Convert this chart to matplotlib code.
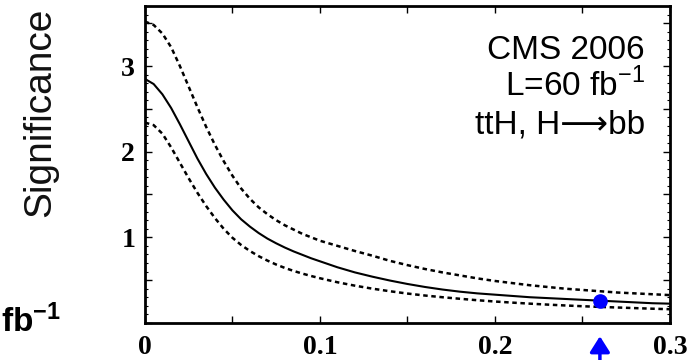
import matplotlib
matplotlib.use("Agg")
import matplotlib.pyplot as plt
from matplotlib.ticker import MultipleLocator, FuncFormatter

plt.rcParams['mathtext.fontset'] = 'custom'
plt.rcParams['mathtext.rm'] = 'Liberation Sans'
plt.rcParams['mathtext.bf'] = 'Liberation Sans:bold'

# significance vs. x, central curve with upper/lower bands
x = [0.0, 0.005, 0.01, 0.015, 0.02, 0.025, 0.03, 0.035, 0.04, 0.045, 0.05,
     0.055, 0.06, 0.065, 0.07, 0.075, 0.08, 0.085, 0.09, 0.095, 0.10,
     0.11, 0.12, 0.13, 0.14, 0.15, 0.16, 0.17, 0.18, 0.19, 0.20,
     0.21, 0.22, 0.23, 0.24, 0.25, 0.26, 0.27, 0.28, 0.29, 0.30]
sig_central = [2.85, 2.79, 2.67, 2.51, 2.32, 2.12, 1.92, 1.74, 1.58, 1.44, 1.315,
               1.21, 1.125, 1.05, 0.985, 0.93, 0.88, 0.835, 0.795, 0.755, 0.72,
               0.65, 0.59, 0.54, 0.495, 0.455, 0.42, 0.39, 0.365, 0.345, 0.33,
               0.315, 0.30, 0.29, 0.28, 0.27, 0.26, 0.25, 0.24, 0.23, 0.225]
sig_upper = [3.52, 3.48, 3.38, 3.22, 3.00, 2.76, 2.52, 2.29, 2.08, 1.89, 1.72,
             1.57, 1.45, 1.35, 1.27, 1.20, 1.14, 1.09, 1.04, 1.00, 0.96,
             0.90, 0.84, 0.785, 0.725, 0.675, 0.63, 0.59, 0.555, 0.52, 0.49,
             0.465, 0.44, 0.42, 0.40, 0.385, 0.37, 0.355, 0.345, 0.335, 0.325]
sig_lower = [2.34, 2.31, 2.21, 2.05, 1.87, 1.69, 1.52, 1.365, 1.225, 1.10, 0.995,
             0.91, 0.84, 0.78, 0.728, 0.682, 0.642, 0.607, 0.576, 0.548, 0.522,
             0.475, 0.435, 0.40, 0.37, 0.343, 0.32, 0.30, 0.282, 0.265, 0.25,
             0.237, 0.225, 0.214, 0.204, 0.195, 0.187, 0.18, 0.173, 0.166, 0.16]

# highlighted point
mark_x = 0.26
mark_y = sig_central[x.index(mark_x)]

fig = plt.figure(figsize=(7, 3.6), dpi=100)
ax = fig.add_axes([0.207, 0.103, 0.75, 0.88])

ax.plot(x, sig_central, color='black', lw=1.5)
dash = (0, (1.8, 1.45))
ax.plot(x, sig_upper, color='black', lw=1.8, linestyle=dash)
ax.plot(x, sig_lower, color='black', lw=1.8, linestyle=dash)
ax.plot(mark_x, mark_y, 'o', color='#0000ff', markersize=9.5, zorder=5)

ax.set_xlim(0, 0.3)
ax.set_ylim(0, 3.7)

for s in ax.spines.values():
    s.set_linewidth(2)

ax.xaxis.set_major_locator(MultipleLocator(0.05))
ax.yaxis.set_major_locator(MultipleLocator(0.5))
ax.yaxis.set_minor_locator(MultipleLocator(0.1))


def xfmt(v, pos):
    if abs(v * 10 - round(v * 10)) > 1e-6:
        return ''
    return '0' if abs(v) < 1e-9 else f'{v:.1f}'


def yfmt(v, pos):
    if abs(v - round(v)) > 1e-6 or abs(v) < 1e-9:
        return ''
    return f'{int(round(v))}'


ax.xaxis.set_major_formatter(FuncFormatter(xfmt))
ax.yaxis.set_major_formatter(FuncFormatter(yfmt))
ax.tick_params(which='both', direction='in', top=True, right=True)
ax.tick_params(which='major', length=5, width=1)
ax.tick_params(axis='x', which='major', pad=9)
ax.tick_params(axis='y', which='major', pad=7)
ax.tick_params(which='minor', length=2.5, width=0.8)
for lab in ax.get_xticklabels() + ax.get_yticklabels():
    lab.set_fontfamily('Liberation Serif')
    lab.set_fontweight('bold')
    lab.set_fontsize(20)

fig.text(40 / 700, 1 - 112 / 360, 'Significance', rotation=90,
         ha='center', va='center', fontsize=28, family='Liberation Sans',
         color='#111111')

txt = dict(transform=ax.transAxes, ha='right', va='baseline', fontsize=24,
           family=['Liberation Sans', 'DejaVu Sans'])
ax.text(0.952, 0.833, 'CMS 2006', **txt)
ax.text(0.952, 0.716, r'L=60 fb$^{\mathrm{-1}}$', **txt)
ax.text(0.952, 0.599, 'ttH, H\u27f6bb', **txt)

fig.text(1 / 700, 1 - 332 / 360, r'$\mathbf{fb^{-1}}$', ha='left',
         va='baseline', fontsize=24)

# arrow under the axis pointing at the marked x
ax.annotate('', xy=(mark_x, -0.042), xytext=(mark_x, -0.16),
            xycoords=('data', 'axes fraction'),
            arrowprops=dict(arrowstyle='-|>,head_length=0.95,head_width=0.6',
                            color='#0000ff', lw=2.5, shrinkA=0, shrinkB=0),
            annotation_clip=False)

fig.savefig('out.png', dpi=100)
